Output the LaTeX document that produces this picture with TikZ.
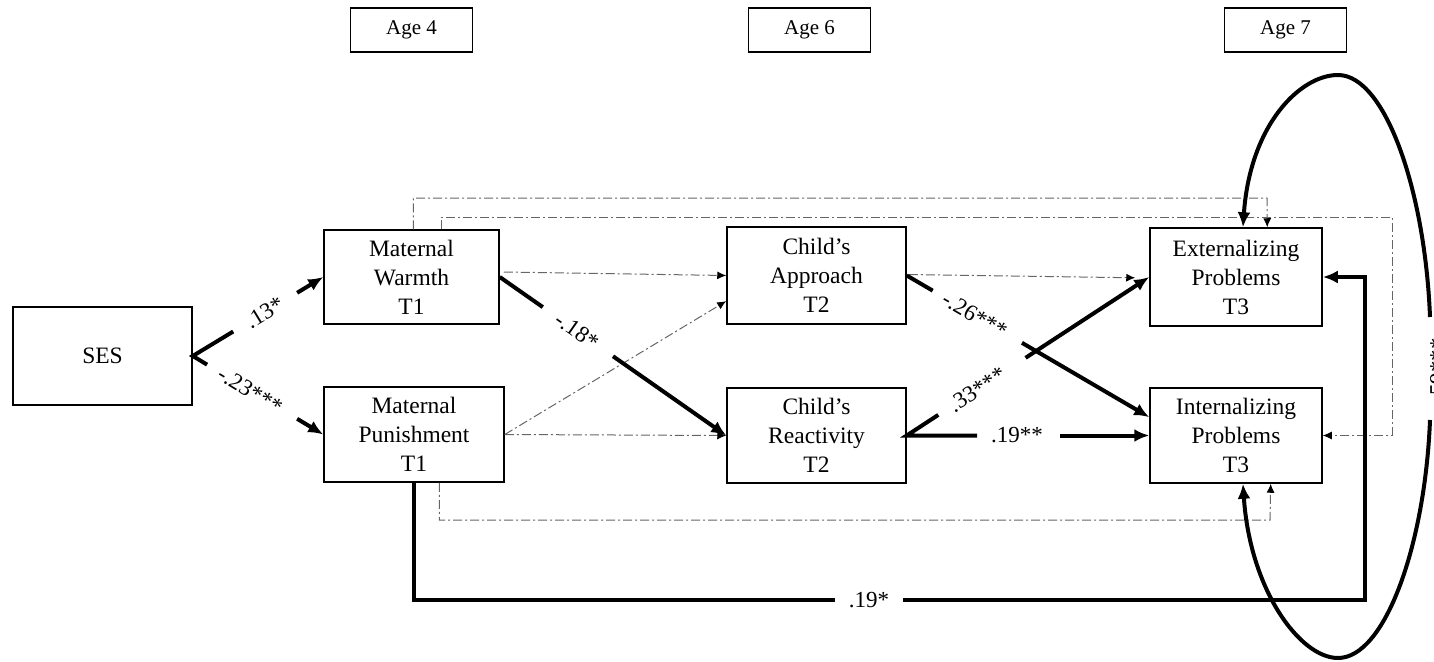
\documentclass[tikz,border=0pt]{standalone}
\usepackage{fontspec}
\setmainfont{Liberation Serif}
\usetikzlibrary{arrows.meta,calc}
\begin{document}
\begin{tikzpicture}[x=1pt,y=-1pt,
  box/.style={draw,line width=1.5pt,align=center,font=\fontsize{23.5}{29}\selectfont,inner sep=0pt},
  agebox/.style={draw,line width=1.5pt,minimum width=122pt,minimum height=44pt,font=\fontsize{21}{24}\selectfont,inner sep=0pt},
  strong/.style={line width=4pt,miter limit=10},
  strongarr/.style={strong,-{Latex[length=15pt,width=13pt]}},
  weak/.style={line width=1pt,black!60,dash pattern=on 9pt off 3pt on 2pt off 3pt},
  weakarr/.style={weak,-{Latex[length=9pt,width=8pt,color=black]}},
  lab/.style={font=\fontsize{23}{24}\selectfont,sloped,inner sep=1pt},
  labw/.style={font=\fontsize{23}{24}\selectfont,fill=white,inner xsep=14pt,inner ysep=2pt}
]
\useasboundingbox (0,0) rectangle (1434,661);

% nodes
\node[box,minimum width=179pt,minimum height=98pt] (ses) at (102.5,356) {SES};
\node[box,minimum width=175pt,minimum height=94pt] (mw) at (411.5,277) {Maternal\\Warmth\\T1};
\node[box,minimum width=180pt,minimum height=95pt] (mp) at (414,434.5) {Maternal\\Punishment\\T1};
\node[box,minimum width=179pt,minimum height=97pt] (ca) at (816.5,275.5) {Child’s\\Approach\\T2};
\node[box,minimum width=179pt,minimum height=95pt] (cr) at (816.5,435.5) {Child’s\\Reactivity\\T2};
\node[box,minimum width=172pt,minimum height=98pt] (ex) at (1236,277) {Externalizing\\Problems\\T3};
\node[box,minimum width=172pt,minimum height=95pt] (in) at (1236,435.5) {Internalizing\\Problems\\T3};

\node[agebox] (a4) at (411.5,30) {Age 4};
\node[agebox] (a6) at (809.5,30) {Age 6};
\node[agebox] (a7) at (1285.5,30) {Age 7};

% dash-dot (non-significant) paths
\draw[weakarr] ($(mw.east)+(4,-5)$) -- (ca.west);
\draw[weakarr] (mp.east) -- ($(ca.south west)!0.24!(ca.north west)$);
\draw[weakarr] (mp.east) -- (cr.west);
\draw[weakarr,shorten >=14pt] ($(ca.east)+(2,-1)$) -- ($(ex.west)+(0,1)$);
\coordinate (t1) at (1267,198);
\draw[weakarr] ($(mw.north west)!0.51!(mw.north east)$) |- (t1) -- ($(ex.north west)!0.68!(ex.north east)$);
\coordinate (t2) at (1392,217);
\draw[weakarr] ($(mw.north west)!0.67!(mw.north east)$) |- (t2) |- (in.east);
\coordinate (t3) at (1270,520);
\draw[weakarr] ($(mp.south west)!0.64!(mp.south east)$) |- (t3) -- ($(in.south west)!0.70!(in.south east)$);

% SES paths
\draw[strong] ($(ses.east)!0.31!(mw.west)$) -- (ses.east) -- ($(ses.east)!0.11!(mp.west)$);
\draw[strongarr] ($(ses.east)!0.80!(mw.west)$) -- (mw.west);
\draw[strongarr] ($(ses.east)!0.80!(mp.west)$) -- (mp.west);
\path (ses.east) -- (mw.west) node[lab,pos=0.55] (l13) {.13*};
\path (ses.east) -- (mp.west) node[lab,pos=0.44] (l23) {-.23***};

% warmth -> reactivity
\draw[strong] (mw.east) -- ($(mw.east)!0.19!(cr.west)$);
\draw[strongarr] ($(mw.east)!0.50!(cr.west)$) -- (cr.west);
\path (mw.east) -- (cr.west) node[lab,pos=0.34] (l18) {-.18*};

% approach -> internalizing
\coordinate (inw) at ($(in.north west)!0.31!(in.south west)$);
\draw[strong] (ca.east) -- ($(ca.east)!0.107!(inw)$);
\draw[strongarr] ($(ca.east)!0.475!(inw)$) -- (inw);
\path (ca.east) -- (inw) node[lab,pos=0.28] (l26) {-.26***};

% reactivity -> externalizing / internalizing
\draw[strong] ($(cr.east)!0.13!(ex.west)$) -- (cr.east) -- ($(cr.east)!0.29!(in.west)$);
\draw[strongarr] ($(cr.east)!0.49!(ex.west)$) -- (ex.west);
\draw[strongarr] ($(cr.east)!0.63!(in.west)$) -- (in.west);
\path (cr.east) -- (ex.west) node[lab,pos=0.29] (l33) {.33***};
\path (cr.east) -- (in.west) node[lab,pos=0.455] (l19a) {.19**};

% punishment -> externalizing
\coordinate (b1) at (1365,600);
\draw[strongarr] (mp.south) |- (b1) |- (ex.east);
\node[labw] (l19b) at (869,600) {.19*};

% correlation between outcomes
\coordinate (e1) at (1430,317);
\coordinate (e2) at (1430,420);
\coordinate (etop) at (1338,75);
\coordinate (ebot) at (1338,658);
\draw[strongarr] (e1) .. controls (1425,190) and (1385,75) .. (etop) .. controls (1300,75) and (1250,125) .. ($(ex.north west)!0.54!(ex.north east)$);
\draw[strongarr] (e2) .. controls (1425,545) and (1385,658) .. (ebot) .. controls (1300,658) and (1250,590) .. ($(in.south west)!0.54!(in.south east)$);
\node[font=\fontsize{23}{24}\selectfont,rotate=90,inner sep=1pt] (l59) at (1438,370) {.59***};
\end{tikzpicture}
\end{document}
